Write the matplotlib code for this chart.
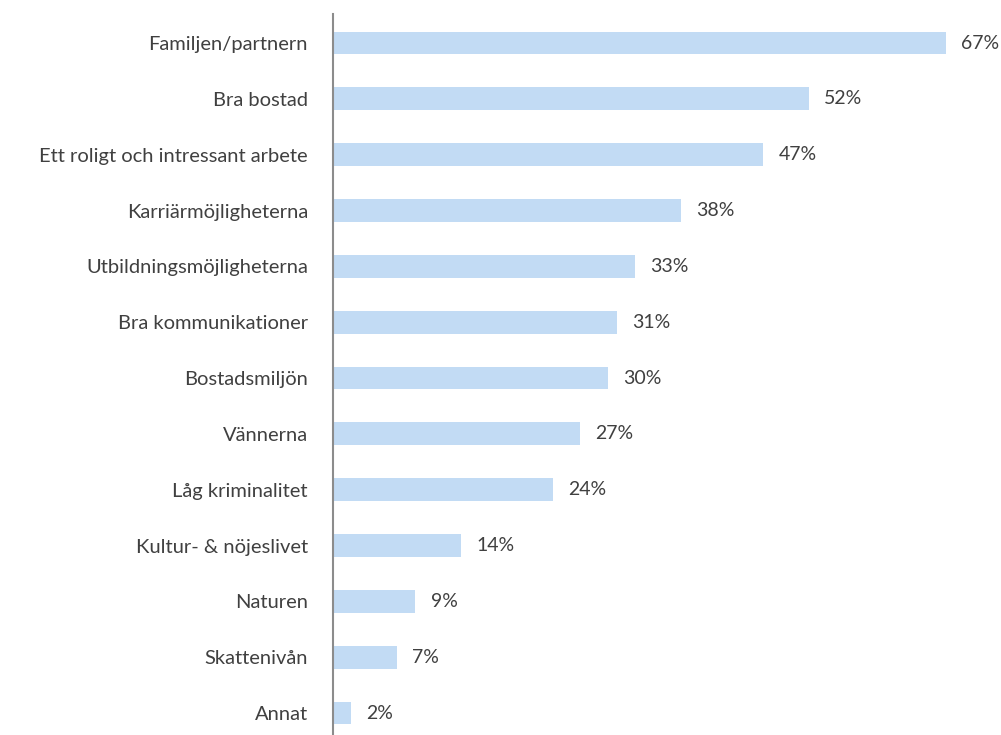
import matplotlib
matplotlib.use("Agg")
import matplotlib.pyplot as plt

categories = [
    "Familjen/partnern", "Bra bostad", "Ett roligt och intressant arbete",
    "Karriärmöjligheterna", "Utbildningsmöjligheterna", "Bra kommunikationer",
    "Bostadsmiljön", "Vännerna", "Låg kriminalitet", "Kultur- & nöjeslivet",
    "Naturen", "Skattenivån", "Annat",
]
values = [67, 52, 47, 38, 33, 31, 30, 27, 24, 14, 9, 7, 2]
value_labels = [f"{v}%" for v in values]

plt.rcParams["font.family"] = ["Lato", "DejaVu Sans"]

fig = plt.figure(figsize=(10.01, 7.35), dpi=100)
ax = fig.add_axes([333 / 1001, 0.0, 657 / 1001, 1 - 14 / 735])

pos = list(range(len(categories)))
ax.barh(pos, values, height=0.41, color="#C2DBF4", edgecolor="none")
for y, v, lab in zip(pos, values, value_labels):
    ax.annotate(lab, (v, y), xytext=(11, 0), textcoords="offset points",
                ha="left", va="center", fontsize=14, color="#404040")

ax.set_yticks(pos)
ax.set_yticklabels(categories, fontsize=14.5, color="#404040")
ax.tick_params(axis="y", length=0, pad=18)
ax.set_xticks([])
ax.set_xlim(0, 657 / 9.15)
ax.set_ylim(12 + 0.394, -0.52)
for s in ["top", "right", "bottom"]:
    ax.spines[s].set_visible(False)
ax.spines["left"].set_color("#8C8C8C")
ax.spines["left"].set_linewidth(1.5)

fig.savefig("out.png", dpi=100)
